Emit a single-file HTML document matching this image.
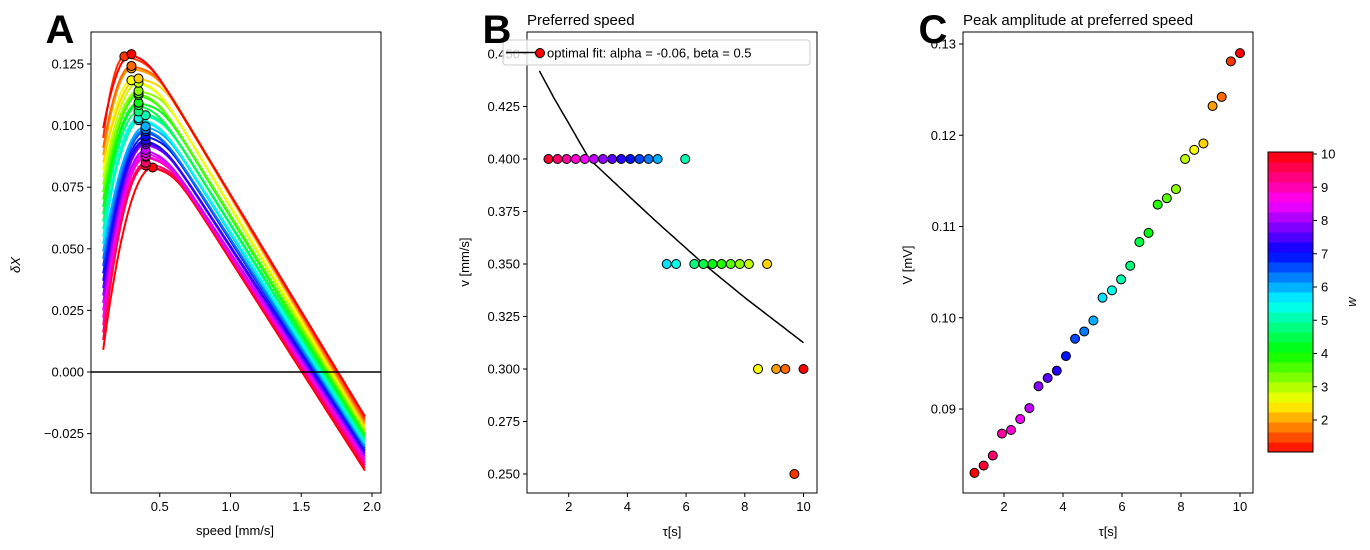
<!DOCTYPE html>
<html><head><meta charset="utf-8">
<style>
html,body{margin:0;padding:0;background:#fff;}
svg{display:block;font-family:"Liberation Sans","DejaVu Sans",sans-serif;}
</style></head>
<body>
<svg id="fig" width="1370" height="550" viewBox="0 0 1370 550" xmlns="http://www.w3.org/2000/svg"></svg>
<script>
// ---- data ----
const tauValues = [1.00,1.31,1.62,1.93,2.24,2.55,2.86,3.17,3.48,3.79,4.10,4.41,4.72,5.03,5.34,5.66,5.97,6.28,6.59,6.90,7.21,7.52,7.83,8.14,8.45,8.76,9.07,9.38,9.69,10.00];
const prefSpeed = [0.45,0.40,0.40,0.40,0.40,0.40,0.40,0.40,0.40,0.40,0.40,0.40,0.40,0.40,0.35,0.35,0.40,0.35,0.35,0.35,0.35,0.35,0.35,0.35,0.30,0.35,0.30,0.30,0.25,0.30];
const peakAmp = [0.0830,0.0838,0.0849,0.0873,0.0877,0.0889,0.0901,0.0925,0.0934,0.0942,0.0958,0.0977,0.0985,0.0997,0.1022,0.1030,0.1042,0.1057,0.1083,0.1093,0.1124,0.1131,0.1141,0.1174,0.1184,0.1191,0.1232,0.1242,0.1281,0.1290];
const startAmp = [0.009,0.013,0.016,0.019,0.022,0.025,0.028,0.031,0.034,0.037,0.040,0.043,0.046,0.049,0.052,0.055,0.058,0.061,0.064,0.067,0.070,0.073,0.076,0.079,0.082,0.085,0.088,0.091,0.095,0.099];
const zeroCross = [1.505,1.514,1.523,1.531,1.540,1.549,1.558,1.567,1.575,1.584,1.593,1.602,1.611,1.619,1.628,1.637,1.646,1.655,1.663,1.672,1.681,1.690,1.699,1.707,1.716,1.725,1.734,1.743,1.751,1.760];
const endAmp = [-0.040,-0.039,-0.038,-0.037,-0.036,-0.035,-0.034,-0.034,-0.033,-0.032,-0.032,-0.031,-0.030,-0.030,-0.029,-0.028,-0.028,-0.027,-0.026,-0.026,-0.025,-0.024,-0.024,-0.023,-0.022,-0.022,-0.021,-0.020,-0.019,-0.018];
const fitAlpha = -0.06, fitBeta = 0.5; // legend values
const fitTau = [1.0,1.5,2.0,2.7,4.0,5.0,6.6,8.0,10.0];
const fitV = [0.442,0.429,0.417,0.400,0.383,0.370,0.350,0.334,0.3125];
const aXTicks = [0.5,1.0,1.5,2.0];
const aYTicks = [-0.025,0.000,0.025,0.050,0.075,0.100,0.125];
const bXTicks = [2,4,6,8,10];
const bYTicks = [0.250,0.275,0.300,0.325,0.350,0.375,0.400,0.425,0.450];
const cXTicks = [2,4,6,8,10];
const cYTicks = [0.09,0.10,0.11,0.12,0.13];
const cbTicks = [2,3,4,5,6,7,8,9,10];

const NS="http://www.w3.org/2000/svg";
const svg=document.getElementById('fig');
function el(tag,attrs,parent){const e=document.createElementNS(NS,tag);for(const k in attrs)e.setAttribute(k,attrs[k]);(parent||svg).appendChild(e);return e;}
function tauColor(t){const h=360*(1-(t-1)/9);return `hsl(${h},100%,50%)`;}

const ax={x:v=>89+v*141.5, y:v=>372-v*2464};
const bx={x:v=>510+v*29.35, y:v=>159-(v-0.4)*2100};
const cx={x:v=>945+v*29.5, y:v=>44+(0.13-v)*9125};

function frame(x0,y0,x1,y1,name){
  const r=el('rect',{x:x0,y:y0,width:x1-x0,height:y1-y0,fill:'none',stroke:'#000','stroke-width':1});
  
  
}
function xticks(ticks,sc,yb,fmt,name){
  ticks.forEach(t=>{const x=sc(t);
    el('line',{x1:x,x2:x,y1:yb,y2:yb+4,stroke:'#000'});
    const tx=el('text',{x:x,y:yb+18,'font-size':13,'text-anchor':'middle'});tx.textContent=fmt(t);
    
    });
}
function yticks(ticks,sc,xl,fmt,name){
  ticks.forEach(t=>{const y=sc(t);
    el('line',{x1:xl-4,x2:xl,y1:y,y2:y,stroke:'#000'});
    const tx=el('text',{x:xl-7,y:y+4.5,'font-size':13,'text-anchor':'end'});tx.textContent=fmt(t);
    
    });
}
function label(txt,x,y,rot,name,extra){
  const t=el('text',Object.assign({x:x,y:y,'font-size':13,'text-anchor':'middle'},extra||{}));
  if(rot)t.setAttribute('transform',`rotate(-90 ${x} ${y})`);
  t.textContent=txt;
  
  
}
function marker(x,y,c,name){
  const m=el('circle',{cx:x,cy:y,r:4.5,fill:c,stroke:'#000','stroke-width':1});
  
  
}
function lerpKnots(xs,ys,x){for(let k=0;k<xs.length-1;k++){if(x<=xs[k+1]+1e-9){const t=(x-xs[k])/(xs[k+1]-xs[k]);return ys[k]+(ys[k+1]-ys[k])*t;}}return ys[ys.length-1];}

// ---- Panel A ----
const clipA=el('clipPath',{id:'clipA'});el('rect',{x:91,y:32,width:290,height:461},clipA);
const gA=el('g',{'clip-path':'url(#clipA)'});
for(let i=0;i<tauValues.length;i++){
  const pts=[];const v=prefSpeed[i],s=startAmp[i],p=peakAmp[i];
  const z=zeroCross[i], slope=-endAmp[i]/(1.95-z);
  const k=0.004;
  for(let x=0.1;x<=1.951;x+=0.025){
    let y;
    if(x<=v){const t=(x-0.1)/(v-0.1);y=s+(p-s)*(1-(1-t)*(1-t));}
    else{
      const L=slope*(z-x), P=p-0.01*(x-v);
      const m=Math.min(L,P);
      y=m-k*Math.log(Math.exp(-(L-m)/k)+Math.exp(-(P-m)/k));
    }
    pts.push(ax.x(x).toFixed(1)+','+ax.y(y).toFixed(1));
  }
  const pl=el('polyline',{points:pts.join(' '),fill:'none',stroke:tauColor(tauValues[i]),'stroke-width':2,'stroke-linejoin':'round'},gA);
  
  
}
el('line',{x1:91,x2:381,y1:ax.y(0),y2:ax.y(0),stroke:'#000','stroke-width':1.6});
for(let i=0;i<tauValues.length;i++) marker(ax.x(prefSpeed[i]),ax.y(peakAmp[i]),tauColor(tauValues[i]),'peak-marker');
frame(91,32,381,493,'panel-a-axes');
xticks(aXTicks,ax.x,493,t=>t.toFixed(1),'x-tick-label');
yticks(aYTicks,ax.y,91,t=>(t<0?'\u2212':'')+Math.abs(t).toFixed(3),'y-tick-label');
label('speed [mm/s]',235,535,false,'x-axis-title');
label('\u03b4X',20,265,true,'y-axis-title',{'font-style':'italic'});

// ---- Panel B ----
frame(527,32,817,493,'panel-b-axes');
{const pts=[];
 for(let t=fitTau[0];t<=fitTau[fitTau.length-1]+1e-9;t+=0.1){pts.push(bx.x(t).toFixed(1)+','+bx.y(lerpKnots(fitTau,fitV,t)).toFixed(1));}
 const pl=el('polyline',{points:pts.join(' '),fill:'none',stroke:'#000','stroke-width':1.5,'stroke-linejoin':'round'});
 
 }
for(let i=0;i<tauValues.length;i++) marker(bx.x(tauValues[i]),bx.y(prefSpeed[i]),tauColor(tauValues[i]),'speed-point');
xticks(bXTicks,bx.x,493,t=>String(t),'x-tick-label');
yticks(bYTicks,bx.y,527,t=>t.toFixed(3),'y-tick-label');
label('\u03c4[s]',672,536,false,'x-axis-title');
label('v [mm/s]',469,262,true,'y-axis-title');
{const g=el('g',{});
 el('rect',{x:503,y:40,width:307,height:25,rx:3,fill:'rgba(255,255,255,0.8)',stroke:'#ccc'},g);
 el('line',{x1:506,x2:540,y1:52.5,y2:52.5,stroke:'#000','stroke-width':1.5},g);
 el('circle',{cx:540,cy:53,r:4.5,fill:'#ff0000',stroke:'#000'},g);
 const t=el('text',{x:547,y:57.5,'font-size':13},g);t.textContent=`optimal fit: alpha = ${fitAlpha}, beta = ${fitBeta}`;}
{const t=el('text',{x:527,y:25,'font-size':15});t.textContent='Preferred speed';}

// ---- Panel C ----
frame(963,32,1253,493,'panel-c-axes');
for(let i=0;i<tauValues.length;i++) marker(cx.x(tauValues[i]),cx.y(peakAmp[i]),tauColor(tauValues[i]),'amplitude-point');
xticks(cXTicks,cx.x,493,t=>String(t),'x-tick-label');
yticks(cYTicks,cx.y,963,t=>t.toFixed(2),'y-tick-label');
label('\u03c4[s]',1108,536,false,'x-axis-title');
label('V [mV]',912,265,true,'y-axis-title');
{const t=el('text',{x:963,y:25,'font-size':15});t.textContent='Peak amplitude at preferred speed';}

// ---- Colorbar ----
{const g=el('g',{});
 for(let k=0;k<30;k++){const w=1+9*(k+0.5)/30;const h=360*(w-1)/9;
   el('rect',{x:1268,y:452-(k+1)*10,width:45,height:10.5,fill:`hsl(${h},100%,50%)`},g);}
 el('rect',{x:1268,y:152,width:45,height:300,fill:'none',stroke:'#000'},g);}
cbTicks.forEach(w=>{const y=154+(10-w)*33.25;
  el('line',{x1:1313,x2:1317,y1:y,y2:y,stroke:'#000'});
  const t=el('text',{x:1321,y:y+4.5,'font-size':13});t.textContent=String(w);
  
  });
label('w',1356,302,true,'colorbar-title',{'font-style':'italic'});

[['A',60],['B',497],['C',933]].forEach(([L,x])=>{const t=el('text',{x:x,y:43,'font-size':40,'font-weight':'bold','text-anchor':'middle'});t.textContent=L;
  
  });
</script>
</body></html>
